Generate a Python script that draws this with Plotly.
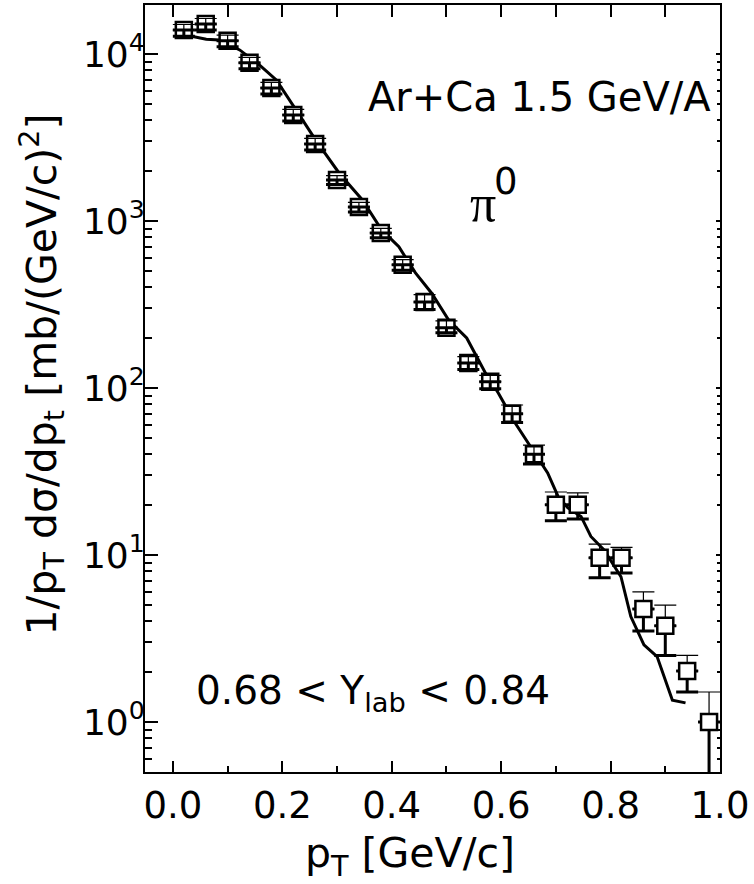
import numpy as np
import plotly.graph_objects as go

# Measured pi0 invariant cross sections, Ar+Ca at 1.5 GeV/A, 0.68 < Y_lab < 0.84
pt = [0.02, 0.06, 0.10, 0.14, 0.18, 0.22, 0.26, 0.30, 0.34, 0.38, 0.42, 0.46,
      0.50, 0.54, 0.58, 0.62, 0.66, 0.70, 0.74, 0.78, 0.82, 0.86, 0.90, 0.94, 0.98]
xsec = [13900, 15100, 12000, 8840, 6260, 4310, 2890, 1760, 1210, 848, 546, 327,
        229, 141, 109, 70, 40, 20, 20, 9.6, 9.6, 4.75, 3.76, 2.02, 1.0]
err_up = [1100, 1200, 950, 700, 500, 340, 230, 110, 80, 55, 40, 35,
          23, 13, 10, 9, 5.5, 3.8, 3.5, 2.0, 1.5, 1.25, 1.24, 0.48, 0.51]
err_lo = [1150, 1200, 950, 700, 500, 340, 230, 110, 80, 55, 40, 32,
          15, 12, 10, 8, 5, 4, 3.6, 2.3, 1.8, 1.25, 1.26, 0.51, 0.75]

# Model calculation
model_pt = [0.007, 0.061, 0.085, 0.122, 0.158, 0.189, 0.225, 0.261, 0.304, 0.346,
            0.382, 0.413, 0.443, 0.473, 0.504, 0.537, 0.570, 0.595, 0.625, 0.649,
            0.685, 0.704, 0.722, 0.746, 0.764, 0.788, 0.819, 0.837, 0.861, 0.885,
            0.913, 0.937]
model_xsec = [13300, 12250, 12130, 10570, 8590, 6980, 4620, 3050, 1930, 1340,
              880, 700, 490, 369, 255, 199, 125, 93, 62, 47,
              31, 22.4, 19.1, 17.0, 12.9, 10.7, 7.4, 4.27, 2.89, 2.46,
              1.35, 1.30]

x_tickvals = [0.0, 0.2, 0.4, 0.6, 0.8, 1.0]
x_ticktext = ["0.0", "0.2", "0.4", "0.6", "0.8", "1.0"]
y_tickvals = [1, 10, 100, 1000, 10000]
y_ticktext = ["10<sup>0</sup>", "10<sup>1</sup>", "10<sup>2</sup>",
              "10<sup>3</sup>", "10<sup>4</sup>"]

FONT = "DejaVu Sans"
pt_a = np.array(pt)
y_a = np.array(xsec)
up_a = np.array(err_up)
lo_a = np.array(err_lo)
small = (up_a / y_a) < 0.15  # bars that stay inside the marker box
big = ~small

minor_y = [m * 10.0 ** k for k in range(-1, 5) for m in range(2, 10)]

fig = go.Figure()

# model curve
fig.add_trace(go.Scatter(x=model_pt, y=model_xsec, mode="lines",
                         line=dict(color="black", width=3), hoverinfo="skip"))


def bars(mask, lower):
    arr = np.zeros(mask.sum())
    if lower:
        ey = dict(type="data", symmetric=False, array=arr, arrayminus=lo_a[mask],
                  color="black", thickness=3, width=11)
    else:
        ey = dict(type="data", symmetric=False, array=up_a[mask], arrayminus=arr,
                  color="black", thickness=1.2, width=11)
    return go.Scatter(x=pt_a[mask], y=y_a[mask], mode="markers",
                      marker=dict(size=1, color="rgba(0,0,0,0)"),
                      error_y=ey, hoverinfo="skip")


# large error bars sit behind the markers
fig.add_trace(bars(big, True))
fig.add_trace(bars(big, False))

# data points
fig.add_trace(go.Scatter(x=pt, y=xsec, mode="markers",
                         marker=dict(symbol="square", size=16, color="white",
                                     line=dict(color="black", width=2.5))))

# small error bars are visible through the markers
fig.add_trace(bars(small, True))
fig.add_trace(bars(small, False))

# invisible copy on the mirrored axes so the top/right frame gets its ticks
fig.add_trace(go.Scatter(x=pt, y=xsec, xaxis="x2", yaxis="y2", mode="markers",
                         marker=dict(size=1, color="rgba(0,0,0,0)"),
                         hoverinfo="skip"))

L, R, T, B = 145, 31, 5, 112
W, H = 754, 884
pw, ph = W - L - R, H - T - B


def px(x):
    return (x - L) / pw


def py(y):
    return (H - B - y) / ph


axis_common = dict(showgrid=False, zeroline=False, showline=True,
                   linecolor="black", linewidth=2, ticks="inside",
                   tickcolor="black", tickwidth=2)

fig.update_layout(
    width=W, height=H,
    margin=dict(l=L, r=R, t=T, b=B),
    paper_bgcolor="white", plot_bgcolor="white",
    showlegend=False,
    font=dict(family=FONT, color="black"),
    xaxis=dict(range=[-0.051, 1.0], tickmode="array", tickvals=x_tickvals,
               ticktext=x_ticktext, ticklen=11, ticklabelstandoff=0,
               tickfont=dict(size=37, family=FONT),
               minor=dict(ticks="inside", dtick=0.1, tick0=0, ticklen=6,
                          tickwidth=2, tickcolor="black"),
               **axis_common),
    xaxis2=dict(overlaying="x", side="top", matches="x", tickmode="linear",
                tick0=0, dtick=0.1, ticklen=12, showticklabels=False,
                **axis_common),
    yaxis=dict(type="log", range=[-0.30, 4.293], tickmode="array",
               tickvals=y_tickvals, ticktext=y_ticktext, ticklen=13,
               ticklabelstandoff=-9, tickfont=dict(size=36, family=FONT),
               minor=dict(ticks="inside", tickmode="array", tickvals=minor_y,
                          ticklen=7, tickwidth=2, tickcolor="black"),
               **axis_common),
    yaxis2=dict(type="log", overlaying="y", side="right", matches="y",
                tickmode="array", tickvals=y_tickvals, ticklen=4,
                showticklabels=False,
                minor=dict(ticks="inside", tickmode="array", tickvals=minor_y,
                           ticklen=3, tickwidth=1.5, tickcolor="black"),
                **axis_common),
)

ann = [
    dict(text="Ar+Ca 1.5 GeV/A", x=px(542), y=py(97), size=40, family=FONT),
    dict(text="0.68 &lt; Y<sub>lab</sub> &lt; 0.84", x=px(374), y=py(693), size=39, family=FONT),
    dict(text="π", x=px(485), y=py(203), size=52, family="Liberation Serif"),
    dict(text="0", x=px(508), y=py(182), size=37, family=FONT),
    dict(text="p<sub>T</sub> [GeV/c]", x=px(411), y=py(856), size=41, family=FONT),
]
for a in ann:
    fig.add_annotation(text=a["text"], x=a["x"], y=a["y"], xref="paper", yref="paper",
                       xanchor="center", yanchor="middle", showarrow=False,
                       font=dict(size=a["size"], family=a["family"], color="black"))

fig.add_annotation(text="1/p<sub>T</sub> dσ/dp<sub>t</sub> [mb/(GeV/c)<sup>2</sup>]",
                   x=px(41), y=py(375), xref="paper", yref="paper",
                   xanchor="center", yanchor="middle", textangle=-90,
                   showarrow=False, font=dict(size=41, family=FONT, color="black"))

fig.write_html("out.html")
